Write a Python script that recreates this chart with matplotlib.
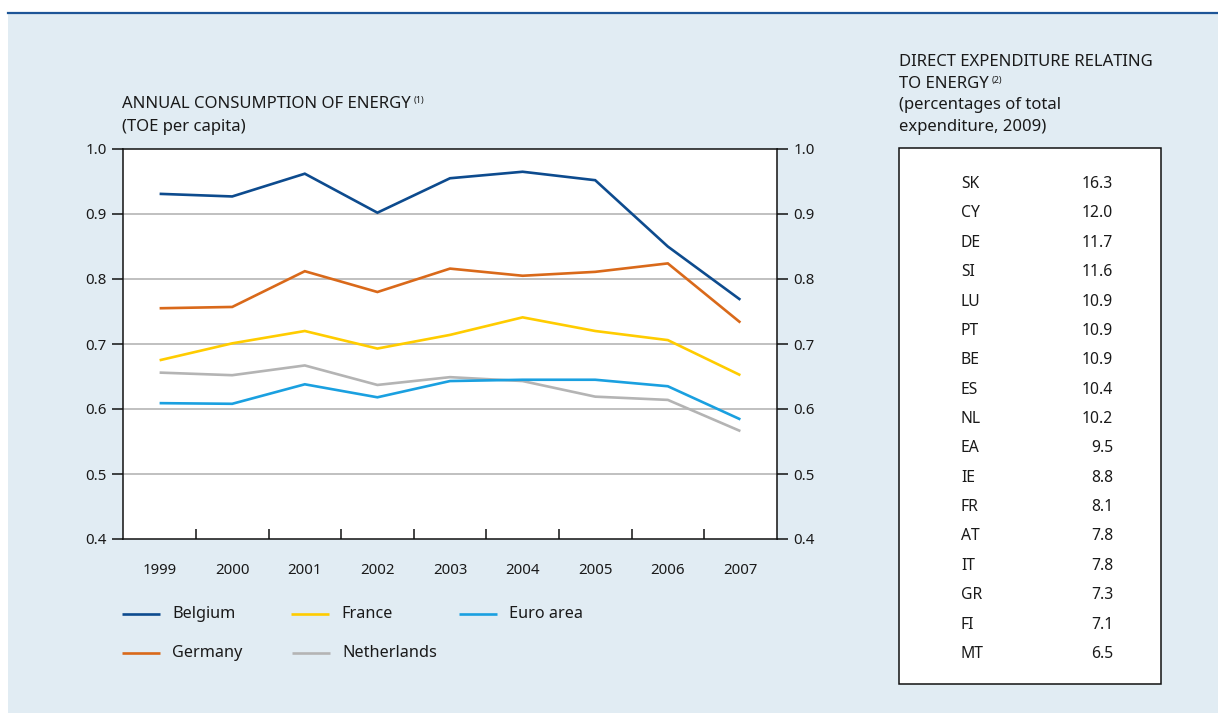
import matplotlib
matplotlib.use("Agg")
import matplotlib.pyplot as plt
from matplotlib.patches import Rectangle
from matplotlib.lines import Line2D

plt.rcParams['font.family'] = ['Noto Sans', 'DejaVu Sans']

# ---- data -------------------------------------------------------------
years = [1999, 2000, 2001, 2002, 2003, 2004, 2005, 2006, 2007]
belgium = [0.931, 0.927, 0.962, 0.902, 0.955, 0.965, 0.952, 0.850, 0.768]
germany = [0.755, 0.757, 0.812, 0.780, 0.816, 0.805, 0.811, 0.824, 0.733]
france = [0.675, 0.701, 0.720, 0.693, 0.714, 0.741, 0.720, 0.706, 0.652]
netherlands = [0.656, 0.652, 0.667, 0.637, 0.649, 0.643, 0.619, 0.614, 0.566]
euro_area = [0.609, 0.608, 0.638, 0.618, 0.643, 0.645, 0.645, 0.635, 0.584]

y_ticks = [0.4, 0.5, 0.6, 0.7, 0.8, 0.9, 1.0]

countries = ["SK", "CY", "DE", "SI", "LU", "PT", "BE", "ES", "NL", "EA",
             "IE", "FR", "AT", "IT", "GR", "FI", "MT"]
shares = [16.3, 12.0, 11.7, 11.6, 10.9, 10.9, 10.9, 10.4, 10.2, 9.5,
          8.8, 8.1, 7.8, 7.8, 7.3, 7.1, 6.5]
highlighted = ["BE", "EA"]

# ---- styling ----------------------------------------------------------
W, H = 1218, 713
BG = "#e1ecf3"
TXT = "#1a1a1a"
HEAD_FS = 12
series = [
    ("Belgium", belgium, "#0d4b8e"),
    ("Germany", germany, "#d9691a"),
    ("France", france, "#ffcc00"),
    ("Netherlands", netherlands, "#b4b4b4"),
    ("Euro area", euro_area, "#1aa0e0"),
]
color_of = {name: c for name, _, c in series}


def fx(x):
    return x / W


def fy(y):
    return 1 - y / H


fig = plt.figure(figsize=(W / 100, H / 100), dpi=100)
fig.patch.set_facecolor("white")

# panel background and top rule
fig.add_artist(Rectangle((fx(8), 0), 1 - fx(8), fy(13.5), transform=fig.transFigure,
                         facecolor=BG, edgecolor="none", zorder=0))
fig.add_artist(Line2D([fx(8), 1], [fy(12.5), fy(12.5)], transform=fig.transFigure,
                      color="#1d5597", lw=1.6, zorder=1))

# ---- line chart -------------------------------------------------------
ax_l, ax_r, ax_t, ax_b = 123.3, 776.7, 149, 539
ax = fig.add_axes([fx(ax_l), fy(ax_b), fx(ax_r - ax_l), (ax_b - ax_t) / H])
ax.set_facecolor("white")
ax.set_xlim(1998.5, 2007.5)
ax.set_ylim(0.4, 1.0)

for yv in y_ticks[1:-1]:
    ax.axhline(yv, color="#b5b5b5", lw=1.2, zorder=1)

draw_order = ["Netherlands", "Euro area", "France", "Germany", "Belgium"]
data_of = {name: vals for name, vals, _ in series}
for name in draw_order:
    ax.plot(years, data_of[name], color=color_of[name], lw=1.9, zorder=3,
            solid_capstyle="butt", solid_joinstyle="miter")

for sp in ax.spines.values():
    sp.set_color("#111111")
    sp.set_linewidth(1.1)

ax.set_yticks(y_ticks)
ax.set_yticklabels([f"{v:.1f}" for v in y_ticks])
ax.tick_params(axis="y", which="major", direction="out", length=8, width=1.1,
               color="#111111", labelsize=10.8, labelcolor=TXT, pad=4,
               left=True, right=True, labelleft=True, labelright=True)

ax.set_xticks(years)
ax.set_xticklabels([str(y) for y in years])
ax.tick_params(axis="x", which="major", length=0, labelsize=10.8,
               labelcolor=TXT, pad=17)
ax.set_xticks([y + 0.5 for y in years[:-1]], minor=True)
ax.tick_params(axis="x", which="minor", direction="in", length=7.5, width=1.1,
               color="#111111")

# chart heading
renderer = fig.canvas.get_renderer()
t1 = fig.text(fx(122), fy(104), "ANNUAL CONSUMPTION OF ENERGY", fontsize=HEAD_FS,
              color=TXT, va="center", ha="left")
bb = t1.get_window_extent(renderer)
fig.text(bb.x1 / W + fx(3), fy(100), "(1)", fontsize=6.5, color=TXT,
         va="center", ha="left")
fig.text(fx(122), fy(127), "(TOE per capita)", fontsize=HEAD_FS, color=TXT,
         va="center", ha="left")

# legend
legend_slots = [
    ("Belgium", 122, 614), ("France", 291, 614), ("Euro area", 459, 614),
    ("Germany", 122, 653), ("Netherlands", 292, 653),
]
for name, lx, ly in legend_slots:
    fig.add_artist(Line2D([fx(lx), fx(lx + 38)], [fy(ly), fy(ly)],
                          transform=fig.transFigure, color=color_of[name],
                          lw=1.9, solid_capstyle="butt"))
    fig.text(fx(lx + 50), fy(ly), name, fontsize=11.7, color=TXT,
             va="center", ha="left")

# ---- expenditure table ------------------------------------------------
head = ["DIRECT EXPENDITURE RELATING", "TO ENERGY", "(percentages of total",
        "expenditure, 2009)"]
head_y = [62, 84, 105, 127]
for txt, hy in zip(head, head_y):
    t = fig.text(fx(899), fy(hy), txt, fontsize=HEAD_FS, color=TXT, va="center",
                 ha="left")
    if txt == "TO ENERGY":
        b2 = t.get_window_extent(renderer)
        fig.text(b2.x1 / W + fx(3), fy(hy - 4), "(2)", fontsize=6.5, color=TXT,
                 va="center", ha="left")

fig.add_artist(Rectangle((fx(899), fy(683.5)), fx(1160.5 - 899), (683.5 - 148) / H,
                         transform=fig.transFigure, facecolor="white",
                         edgecolor="#111111", lw=1.1, zorder=2))

row0, row_step = 184, (654 - 184) / (len(countries) - 1)
for i, (c, v) in enumerate(zip(countries, shares)):
    ry = row0 + i * row_step
    weight = "bold" if c in highlighted else "normal"
    fig.text(fx(961), fy(ry), c, fontsize=11.3, color=TXT, va="center",
             ha="left", fontweight=weight, zorder=3)
    fig.text(fx(1113), fy(ry), f"{v:.1f}", fontsize=11.3, color=TXT,
             va="center", ha="right", fontweight=weight, zorder=3)

fig.savefig("out.png", dpi=100, facecolor=fig.get_facecolor())
